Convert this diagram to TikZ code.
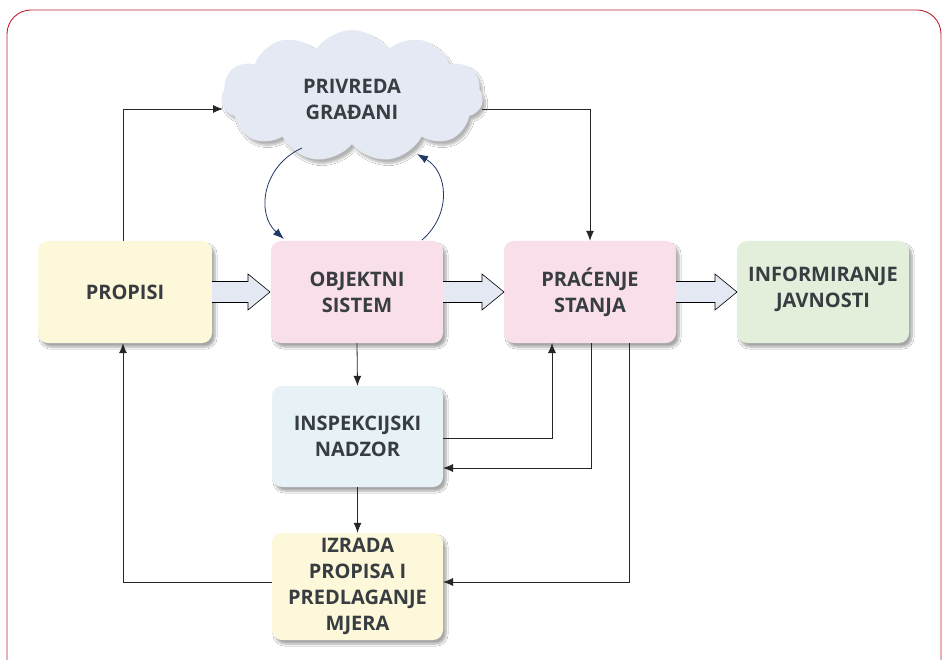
\documentclass[tikz,border=0pt]{standalone}
\usepackage{fontspec}
\setmainfont{Open Sans}
\usetikzlibrary{shapes.symbols,arrows.meta,shadows.blur}
\definecolor{framecol}{HTML}{BE2236}
\definecolor{txtcol}{HTML}{383D42}
\definecolor{yel}{HTML}{FDF8D9}
\definecolor{pink}{HTML}{F9DFEA}
\definecolor{grn}{HTML}{E3EEDB}
\definecolor{blu}{HTML}{E6F2F5}
\definecolor{cloudcol}{HTML}{E4E9F3}
\definecolor{bigarr}{HTML}{E3E8F2}
\definecolor{navy}{HTML}{1F3864}
\newcommand{\twolines}[3]{\raisebox{#1}[\height][\depth]{\begin{tabular}{@{}c@{}}#2\\#3\end{tabular}}}
\tikzset{
  boxnode/.style={rounded corners=10pt, draw=none, align=center, text=txtcol,
    font=\bfseries\fontsize{20}{26}\selectfont,
    blur shadow={shadow xshift=3pt, shadow yshift=-4pt, shadow blur steps=8, shadow opacity=35}},
  conn/.style={draw=black!85, line width=0.8pt, -{Latex[length=10pt,width=8pt]}},
  navyarr/.style={draw=navy, line width=0.8pt, -{Latex[length=11pt,width=8pt]}},
  bigarrow/.style={fill=bigarr, draw=black, line width=0.6pt, line join=miter}
}
\begin{document}
\begin{tikzpicture}[x=1pt,y=-1pt]
\useasboundingbox (0,0) rectangle (942,660);
\clip (0,0) rectangle (942,660);
\fill[white] (0,0) rectangle (942,660);
\draw[framecol, line width=0.9pt, rounded corners=24pt] (7,10) rectangle (941,685);

% cloud
\node[cloud, cloud puffs=11, cloud puff arc=115, aspect=2.2, fill=cloudcol, draw=none,
  minimum width=262pt, minimum height=132pt, inner sep=0pt, text=txtcol,
  font=\bfseries\fontsize{20}{26}\selectfont,
  blur shadow={shadow xshift=3pt, shadow yshift=-4pt, shadow blur steps=8, shadow opacity=30}]
  (cloud) at (352,96) {\twolines{-5pt}{PRIVREDA}{GRAĐANI}};

% boxes
\node[boxnode, fill=yel, minimum width=174pt, minimum height=102pt] (propisi) at (125,292) {PROPISI};
\node[boxnode, fill=pink, minimum width=172pt, minimum height=102pt] (objektni) at (357,292) {OBJEKTNI\\SISTEM};
\node[boxnode, fill=pink, minimum width=172pt, minimum height=102pt] (pracenje) at (590,292) {PRAĆENJE\\STANJA};
\node[boxnode, fill=grn, minimum width=172pt, minimum height=102pt] (info) at (823,292) {\twolines{3pt}{INFORMIRANJE}{JAVNOSTI}};
\node[boxnode, fill=blu, minimum width=171pt, minimum height=101pt] (insp) at (357.5,436.5) {INSPEKCIJSKI\\NADZOR};
\node[boxnode, fill=yel, minimum width=171pt, minimum height=107pt] (izrada) at (357.5,586.5) {IZRADA\\PROPISA I\\PREDLAGANJE\\MJERA};

% big hollow arrows
\foreach \xa/\xb in {212/270, 443/504, 676/737}{
  \path[bigarrow, draw=none] (\xa,281.5) -- (\xb-22,281.5) -- (\xb-22,274) -- (\xb,292) -- (\xb-22,310) -- (\xb-22,302.5) -- (\xa,302.5) -- cycle;
  \draw[bigarrow, fill=none] (\xa,281.5) -- (\xb-22,281.5) -- (\xb-22,274) -- (\xb,292) -- (\xb-22,310) -- (\xb-22,302.5) -- (\xa,302.5);
}

% connectors
\coordinate (cloudin) at (223,109);
\coordinate (cloudout) at (482,109);
\draw[conn] ([xshift=-2pt]propisi.north) |- (cloudin);
\draw[conn] (cloudout) -| (pracenje.north);
\draw[conn] (objektni.south) -- (insp.north);
\draw[conn] (insp.south) -- (izrada.north);
\coordinate (ins1) at (443,438);
\coordinate (pr1) at (552,343);
\draw[conn] (ins1) -| (pr1);
\coordinate (pr2) at (591,343);
\coordinate (ins2) at (443,468);
\draw[conn] (pr2) |- (ins2);
\coordinate (pr3) at (629,343);
\coordinate (iz1) at (443,582);
\draw[conn] (pr3) |- (iz1);
\coordinate (iz2) at (272,582);
\draw[conn] (iz2) -| ([xshift=-2pt]propisi.south);

% curved navy arrows
\coordinate (cb1) at (302,148);
\coordinate (ob1) at (284,239);
\coordinate (ob2) at (422,240);
\coordinate (cb2) at (417,154);
\draw[navyarr] (cb1) .. controls (262,166) and (256,214) .. (ob1);
\draw[navyarr] (ob2) .. controls (452,214) and (448,172) .. (cb2);
\end{tikzpicture}
\end{document}
